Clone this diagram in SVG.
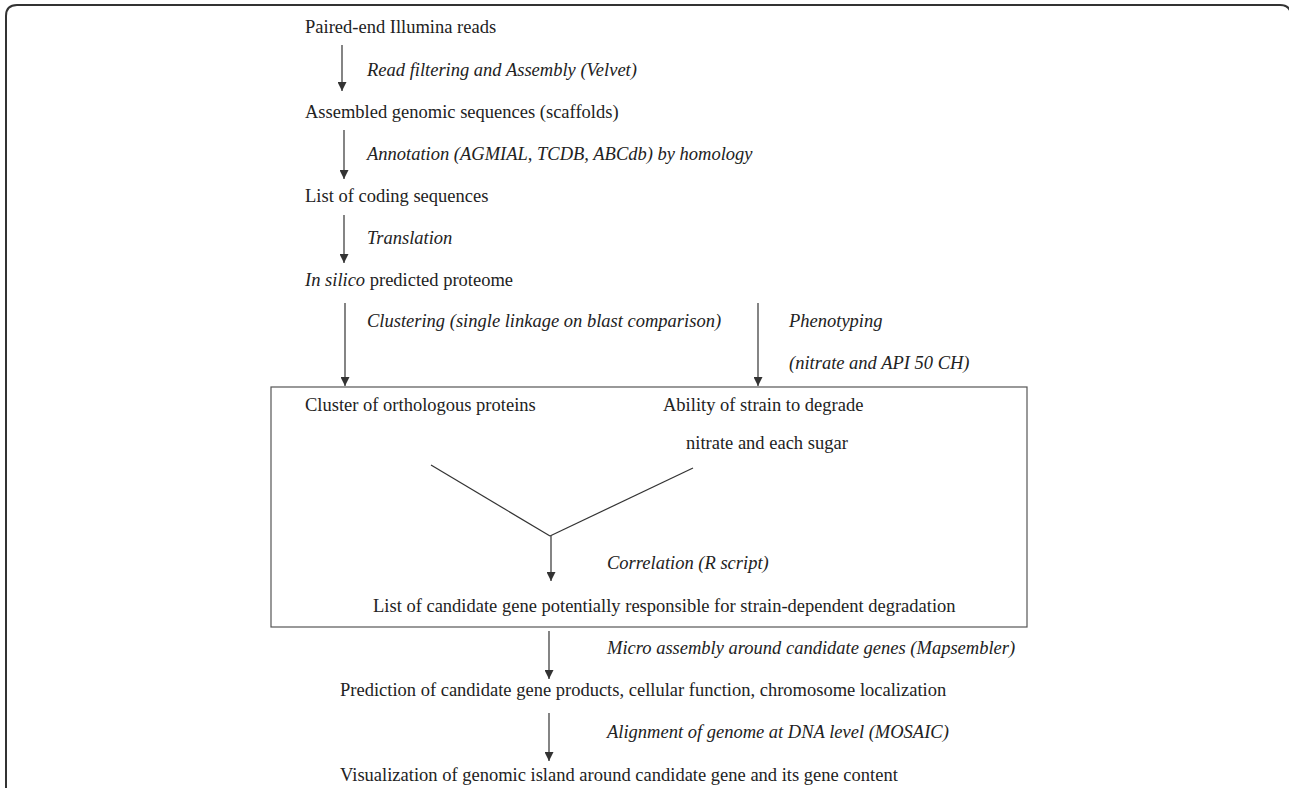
<svg xmlns="http://www.w3.org/2000/svg" width="1289" height="788" viewBox="0 0 1289 788">
<defs>
<style>
.c{stroke:#333;stroke-width:1.2;fill:none;}
.a{stroke:#333;stroke-width:1.2;fill:none;marker-end:url(#ah);}
</style>
<marker id="ah" viewBox="0 0 10 10" refX="10" refY="5" markerWidth="10" markerHeight="9" markerUnits="userSpaceOnUse" orient="auto">
<path d="M0,0 L10,5 L0,10 z" fill="#333"/>
</marker>
</defs>
<rect width="1289" height="788" fill="#fff"/>
<path d="M6,788 V16 Q6,5 17,5 H1280 Q1291,5 1291,16 V788" fill="none" stroke="#333" stroke-width="2"/>
<g id="box"><rect x="271" y="387" width="756" height="240" fill="none" stroke="#555" stroke-width="1.2"/></g>
<g id="connectors">
<line class="a" x1="342" y1="45" x2="342" y2="91"/>
<line class="a" x1="344" y1="130" x2="344" y2="179"/>
<line class="a" x1="344" y1="215" x2="344" y2="263"/>
<line class="a" x1="345" y1="303" x2="345" y2="386"/>
<line class="a" x1="758" y1="303" x2="758" y2="386"/>
<line class="c" x1="431" y1="465" x2="550" y2="536"/>
<line class="c" x1="693" y1="468" x2="550" y2="536"/>
<line class="a" x1="551" y1="536" x2="551" y2="581"/>
<line class="a" x1="549" y1="631" x2="549" y2="679"/>
<line class="a" x1="549" y1="713" x2="549" y2="761"/>
</g>
<g id="n1"><text x="305" y="33" font-family="Liberation Serif" font-size="18.5" fill="#222">Paired-end Illumina reads</text></g>
<g id="l1"><text x="367" y="76" font-family="Liberation Serif" font-style="italic" font-size="18.5" fill="#222">Read filtering and Assembly (Velvet)</text></g>
<g id="n2"><text x="305" y="118" font-family="Liberation Serif" font-size="18.5" fill="#222">Assembled genomic sequences (scaffolds)</text></g>
<g id="l2"><text x="367" y="160" font-family="Liberation Serif" font-style="italic" font-size="18.5" fill="#222">Annotation (AGMIAL, TCDB, ABCdb) by homology</text></g>
<g id="n3"><text x="305" y="202" font-family="Liberation Serif" font-size="18.5" fill="#222">List of coding sequences</text></g>
<g id="l3"><text x="367" y="244" font-family="Liberation Serif" font-style="italic" font-size="18.5" fill="#222">Translation</text></g>
<g id="n4"><text x="305" y="286" font-family="Liberation Serif" font-size="18.5" fill="#222"><tspan font-style="italic">In silico</tspan> predicted proteome</text></g>
<g id="l4"><text x="367" y="327" font-family="Liberation Serif" font-style="italic" font-size="18.5" fill="#222">Clustering (single linkage on blast comparison)</text></g>
<g id="l5"><text x="789" y="327" font-family="Liberation Serif" font-style="italic" font-size="18.5" fill="#222">Phenotyping</text><text x="789" y="369" font-family="Liberation Serif" font-style="italic" font-size="18.5" fill="#222">(nitrate and API 50 CH)</text></g>
<g id="n5"><text x="305" y="411" font-family="Liberation Serif" font-size="18.5" fill="#222">Cluster of orthologous proteins</text></g>
<g id="n6"><text x="663" y="411" font-family="Liberation Serif" font-size="18.5" fill="#222">Ability of strain to degrade</text><text x="686" y="449" font-family="Liberation Serif" font-size="18.5" fill="#222">nitrate and each sugar</text></g>
<g id="l6"><text x="607" y="569" font-family="Liberation Serif" font-style="italic" font-size="18.5" fill="#222">Correlation (R script)</text></g>
<g id="n7"><text x="373" y="612" font-family="Liberation Serif" font-size="18.5" fill="#222">List of candidate gene potentially responsible for strain-dependent degradation</text></g>
<g id="l7"><text x="607" y="654" font-family="Liberation Serif" font-style="italic" font-size="18.5" fill="#222">Micro assembly around candidate genes (Mapsembler)</text></g>
<g id="n8"><text x="340" y="696" font-family="Liberation Serif" font-size="18.5" fill="#222">Prediction of candidate gene products, cellular function, chromosome localization</text></g>
<g id="l8"><text x="607" y="738" font-family="Liberation Serif" font-style="italic" font-size="18.5" fill="#222">Alignment of genome at DNA level (MOSAIC)</text></g>
<g id="n9"><text x="340" y="781" font-family="Liberation Serif" font-size="18.5" fill="#222">Visualization of genomic island around candidate gene and its gene content</text></g>
</svg>
